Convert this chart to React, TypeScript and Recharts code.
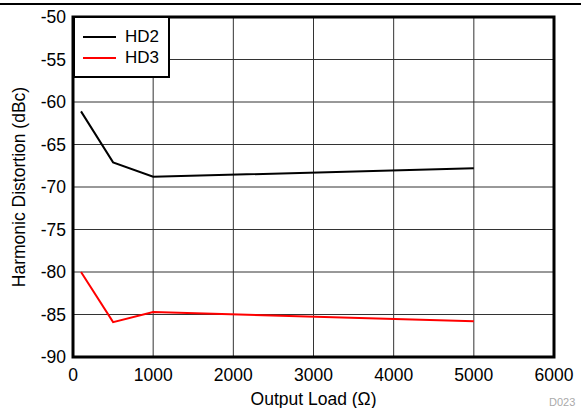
import { LineChart, Line, XAxis, YAxis, CartesianGrid, Legend, ReferenceArea } from 'recharts';

const loads = [100, 500, 1000, 5000];
const hd2 = [-61.1, -67.1, -68.8, -67.8];
const hd3 = [-80, -85.9, -84.7, -85.8];
const xTicks = [0, 1000, 2000, 3000, 4000, 5000, 6000];
const yTicks = [-90, -85, -80, -75, -70, -65, -60, -55, -50];

const data = loads.map((load, i) => ({ load, hd2: hd2[i], hd3: hd3[i] }));

const font = 'Arial, "Liberation Sans", sans-serif';
const fs = 17.5;

function LegendBox() {
  const items = [
    { name: 'HD2', color: '#000000' },
    { name: 'HD3', color: '#ff0000' },
  ];
  return (
    <div
      style={{
        width: 97,
        height: 62,
        boxSizing: 'border-box',
        border: '2.5px solid #000',
        background: '#fff',
        fontFamily: font,
        fontSize: 17,
        paddingTop: 8,
      }}
    >
      {items.map((it) => (
        <div key={it.name} style={{ display: 'flex', alignItems: 'center', height: 21, lineHeight: '21px' }}>
          <span style={{ display: 'inline-block', width: 33, height: 2, background: it.color, marginLeft: 8, marginRight: 9 }} />
          <span>{it.name}</span>
        </div>
      ))}
    </div>
  );
}

function YTitle(props: any) {
  const vb = props.viewBox || { x: 0, y: 17, width: 73, height: 340 };
  const cy = vb.y + vb.height / 2;
  return (
    <text x={19} y={cy} transform={`rotate(-90, 19, ${cy})`} textAnchor="middle" dominantBaseline="central" fill="#000" fontSize={fs} fontFamily={font}>
      Harmonic Distortion (dBc)
    </text>
  );
}

export default function App() {
  return (
    <div style={{ position: 'fixed', left: 0, top: 0, width: 581, height: 408, background: '#fff', overflow: 'hidden' }}>
      <div style={{ position: 'absolute', left: 0, top: 3, width: 581, height: 1.5, background: '#000' }} />
      <LineChart width={581} height={408} data={data} margin={{ top: 17, right: 27, bottom: 0, left: 0 }}>
        <CartesianGrid stroke="#333" strokeWidth={1} />
        <XAxis
          dataKey="load"
          type="number"
          domain={[0, 6000]}
          ticks={xTicks}
          height={51}
          tickLine={false}
          tickSize={0}
          tickMargin={12}
          axisLine={false}
          tick={{ fill: '#000', fontSize: fs, fontFamily: font }}
          label={{ value: 'Output Load (Ω)', position: 'insideBottom', offset: 3, fill: '#000', fontSize: fs, fontFamily: font }}
        />
        <YAxis
          type="number"
          domain={[-90, -50]}
          ticks={yTicks}
          width={73}
          tickLine={false}
          tickSize={0}
          tickMargin={7}
          axisLine={false}
          interval={0}
          tick={{ fill: '#000', fontSize: fs, fontFamily: font }}
          label={{ content: YTitle }}
        />
        <Legend
          layout="horizontal"
          verticalAlign="middle"
          align="center"
          wrapperStyle={{ position: 'absolute', left: 73, top: 16, width: 97, height: 62 }}
          content={<LegendBox />}
        />
        <Line type="linear" dataKey="hd2" stroke="#000000" strokeWidth={2} dot={false} isAnimationActive={false} />
        <Line type="linear" dataKey="hd3" stroke="#ff0000" strokeWidth={2} dot={false} isAnimationActive={false} />
        <ReferenceArea x1={0} x2={6000} y1={-90} y2={-50} fill="none" stroke="#000" strokeWidth={3} ifOverflow="visible" />
      </LineChart>
      <div style={{ position: 'absolute', left: 549, top: 396, fontFamily: font, fontSize: 11, color: '#aaa' }}>D023</div>
    </div>
  );
}
